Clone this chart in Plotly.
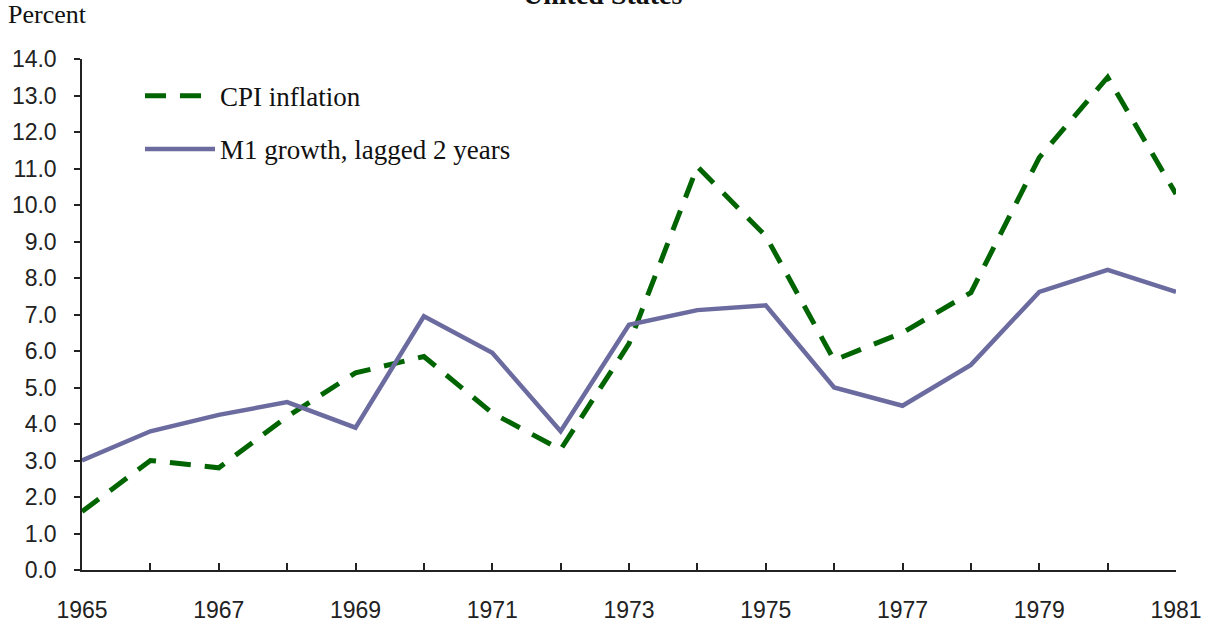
import plotly.graph_objects as go

years = list(range(1965, 1982))
cpi_inflation = [1.6, 3.0, 2.8, 4.2, 5.4, 5.85, 4.3, 3.3, 6.2, 11.05, 9.15, 5.75, 6.5, 7.6, 11.3, 13.5, 10.3]
m1_growth_lag2 = [3.0, 3.8, 4.25, 4.6, 3.9, 6.95, 5.95, 3.8, 6.72, 7.12, 7.25, 5.0, 4.5, 5.62, 7.62, 8.22, 7.62]
x_tick_labels = [str(y) if (y - 1965) % 2 == 0 else "" for y in years]
y_ticks = [float(v) for v in range(0, 15)]

serif = "Liberation Serif"
sans = "Liberation Sans"

fig = go.Figure()
fig.add_trace(go.Scatter(
    x=years, y=cpi_inflation, mode="lines", name="CPI inflation",
    legendgroup="a",
    line=dict(color="#006400", width=5, dash="21px,14px"),
))
fig.add_trace(go.Scatter(
    x=years, y=m1_growth_lag2, mode="lines", name="M1 growth, lagged 2 years",
    legendgroup="b",
    line=dict(color="#6B6BA0", width=4.5),
))

fig.update_layout(
    width=1216, height=630,
    margin=dict(l=82, r=40, t=59, b=60, autoexpand=False),
    paper_bgcolor="white", plot_bgcolor="white",
    showlegend=True,
    legend=dict(
        x=0.053, y=0.975, xanchor="left", yanchor="top",
        font=dict(family=serif, size=27, color="#111111"),
        bgcolor="rgba(0,0,0,0)", itemwidth=70,
        traceorder="grouped", tracegroupgap=15,
    ),
    xaxis=dict(
        range=[1965, 1981], tickmode="array", tickvals=years, ticktext=x_tick_labels,
        ticks="inside", ticklen=7, tickwidth=1.5, tickcolor="#222222",
        showline=True, linecolor="#222222", linewidth=1.5,
        showgrid=False, zeroline=False, automargin=False,
        tickfont=dict(family=sans, size=23, color="#222222"),
        ticklabelstandoff=19,
    ),
    yaxis=dict(
        range=[0, 14], tickmode="array", tickvals=y_ticks, tickformat=".1f",
        ticks="outside", ticklen=6, tickwidth=1.5, tickcolor="#222222",
        showline=True, linecolor="#222222", linewidth=1.5,
        showgrid=False, zeroline=False, automargin=False,
        tickfont=dict(family=sans, size=23, color="#222222"),
        ticklabelstandoff=13,
    ),
    annotations=[
        dict(text="Percent", xref="paper", yref="paper", x=0, y=1,
             xanchor="left", yanchor="bottom", xshift=-76, yshift=28,
             showarrow=False, font=dict(family=serif, size=26, color="#111111")),
        dict(text="<b>United States</b>", xref="paper", yref="paper", x=0.476, y=1,
             xanchor="center", yanchor="bottom", yshift=47,
             showarrow=False, font=dict(family=serif, size=28, color="#111111")),
    ],
)

fig.write_html("out.html", config={"displayModeBar": False},
               post_script="document.body.style.margin='0';document.body.style.padding='0';")
